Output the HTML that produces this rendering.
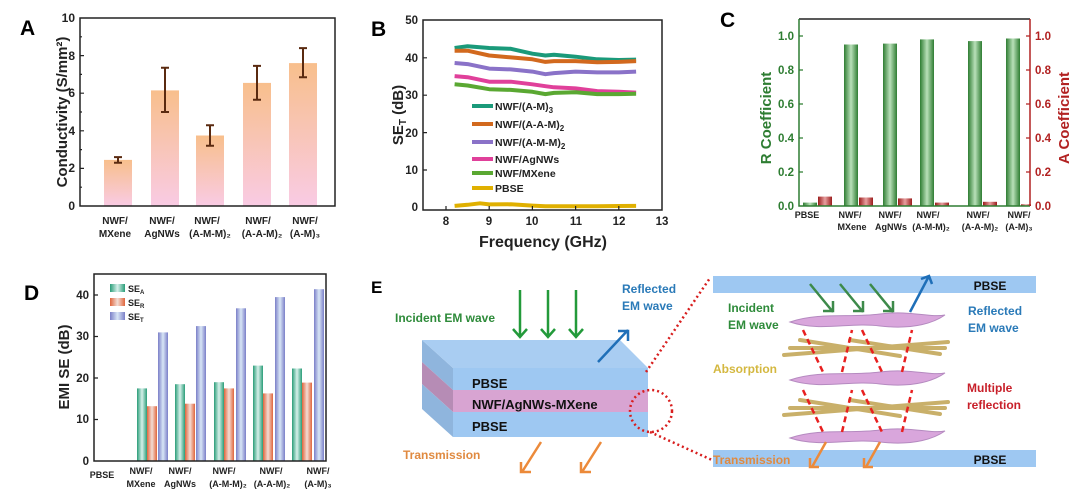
<!DOCTYPE html>
<html><head><meta charset="utf-8"><style>
body{margin:0;background:#fff}
svg{display:block;font-family:"Liberation Sans",Arial,sans-serif;font-weight:bold}
</style></head><body>
<svg width="1080" height="493" viewBox="0 0 1080 493" xmlns="http://www.w3.org/2000/svg">
<defs>
<linearGradient id="ga" x1="0" y1="0" x2="0" y2="1"><stop offset="0" stop-color="#f8bf8c"/><stop offset="1" stop-color="#f9cbe4"/></linearGradient>
<linearGradient id="gg" x1="0" x2="1"><stop offset="0" stop-color="#2e7d32"/><stop offset=".5" stop-color="#b9e0b9"/><stop offset="1" stop-color="#2e7d32"/></linearGradient>
<linearGradient id="gr" x1="0" x2="1"><stop offset="0" stop-color="#9b1b1b"/><stop offset=".5" stop-color="#e7a0a0"/><stop offset="1" stop-color="#9b1b1b"/></linearGradient>
<linearGradient id="dA" x1="0" x2="1"><stop offset="0" stop-color="#2a9d78"/><stop offset=".5" stop-color="#d6f0ea"/><stop offset="1" stop-color="#2a9d78"/></linearGradient>
<linearGradient id="dR" x1="0" x2="1"><stop offset="0" stop-color="#e0653c"/><stop offset=".5" stop-color="#f3ddd5"/><stop offset="1" stop-color="#e0653c"/></linearGradient>
<linearGradient id="dT" x1="0" x2="1"><stop offset="0" stop-color="#7b7fc8"/><stop offset=".5" stop-color="#d8e6f6"/><stop offset="1" stop-color="#7b7fc8"/></linearGradient>
</defs>

<!-- Panel A -->
<text x="20" y="35" font-size="21" fill="#000">A</text>
<g>
<rect x="104" y="159.9" width="28" height="46.1" fill="url(#ga)"/>
<rect x="151" y="90.4" width="28" height="115.6" fill="url(#ga)"/>
<rect x="196" y="135.5" width="28" height="70.5" fill="url(#ga)"/>
<rect x="243" y="82.9" width="28" height="123.1" fill="url(#ga)"/>
<rect x="289" y="63.1" width="28" height="142.9" fill="url(#ga)"/>
<g stroke="#5a2a10" stroke-width="2">
<path d="M118 162.8V157.1M114 162.8h8M114 157.1h8"/>
<path d="M165 112V67.8M161 112h8M161 67.8h8"/>
<path d="M210 145.8V125.2M206 145.8h8M206 125.2h8"/>
<path d="M257 99.8V65.9M253 99.8h8M253 65.9h8"/>
<path d="M303 77.2V48.1M299 77.2h8M299 48.1h8"/>
</g>
<rect x="80" y="18" width="255" height="188" fill="none" stroke="#222" stroke-width="1.5"/>
<g stroke="#222" stroke-width="1.2"><path d="M80 168.4h4M80 130.8h4M80 93.2h4M80 55.6h4M80 187.2h2M80 149.6h2M80 112h2M80 74.4h2M80 36.8h2"/></g>
<g font-size="12" text-anchor="end" fill="#222"><text x="75" y="210">0</text><text x="75" y="172">2</text><text x="75" y="135">4</text><text x="75" y="97">6</text><text x="75" y="60">8</text><text x="75" y="22">10</text></g>
<text transform="translate(67,112) rotate(-90)" font-size="15" text-anchor="middle" fill="#222">Conductivity (S/mm²)</text>
<g font-size="10" fill="#222" text-anchor="middle">
<text x="115" y="224">NWF/</text><text x="115" y="237">MXene</text>
<text x="162" y="224">NWF/</text><text x="162" y="237">AgNWs</text>
<text x="207" y="224">NWF/</text><text x="210" y="237">(A-M-M)₂</text>
<text x="258" y="224">NWF/</text><text x="262" y="237">(A-A-M)₂</text>
<text x="305" y="224">NWF/</text><text x="305" y="237">(A-M)₃</text>
</g>
</g>

<!-- Panel B -->
<text x="371" y="36" font-size="21" fill="#000">B</text>
<rect x="423" y="20" width="239" height="190" fill="none" stroke="#222" stroke-width="1.5"/>
<g fill="none" stroke-width="4" stroke-linejoin="round">
<polyline stroke="#1a9a7a" points="454.6,48 467.6,46.2 489.2,48 510.8,48.8 532.4,53.7 545.4,55.5 554,54.8 575.6,56.7 597.2,59.3 618.8,60 636.1,59.6"/>
<polyline stroke="#d2691e" points="454.6,50.7 467.6,50.7 489.2,55.5 510.8,57.4 532.4,59.3 545.4,61.9 554,61.1 575.6,61.1 597.2,62.3 618.8,61.9 636.1,61.1"/>
<polyline stroke="#8a72c8" points="454.6,63 467.6,64.1 489.2,68.6 510.8,69.4 532.4,71.6 545.4,74.2 554,73.1 575.6,71.6 597.2,72.4 618.8,72.4 636.1,71.6"/>
<polyline stroke="#e0409a" points="454.6,76.1 467.6,77.2 489.2,81.7 510.8,81.7 532.4,84.3 545.4,86.2 554,87.3 575.6,88.4 597.2,91.1 618.8,91.8 636.1,92.6"/>
<polyline stroke="#5aa832" points="454.6,84.3 467.6,85.5 489.2,89.2 510.8,89.9 532.4,91.8 545.4,94.1 554,92.9 575.6,92.2 597.2,94.1 618.8,94.1 636.1,93.7"/>
<polyline stroke="#e0b000" points="454.6,205.9 467.6,204.8 480,203.3 489.2,204.4 510.8,204.3 532.4,205.6 545.4,206.2 575.6,206.2 597.2,206.2 618.8,206 636.1,205.9"/>
</g>
<g stroke-width="4">
<path d="M472 106h21" stroke="#1a9a7a"/><path d="M472 124h21" stroke="#d2691e"/><path d="M472 142h21" stroke="#8a72c8"/>
<path d="M472 159h21" stroke="#e0409a"/><path d="M472 173h21" stroke="#5aa832"/><path d="M472 188h21" stroke="#e0b000"/>
</g>
<g font-size="10.5" fill="#222">
<text x="495" y="110">NWF/(A-M)<tspan font-size="8" dy="3">3</tspan></text>
<text x="495" y="128">NWF/(A-A-M)<tspan font-size="8" dy="3">2</tspan></text>
<text x="495" y="146">NWF/(A-M-M)<tspan font-size="8" dy="3">2</tspan></text>
<text x="495" y="163">NWF/AgNWs</text><text x="495" y="177">NWF/MXene</text><text x="495" y="192">PBSE</text>
</g>
<g stroke="#222" stroke-width="1.2"><path d="M423 170h4M423 132.6h4M423 95.2h4M423 57.8h4M446 210v-4M489.2 210v-4M532.4 210v-4M575.6 210v-4M618.8 210v-4"/></g>
<g font-size="11.5" text-anchor="end" fill="#222"><text x="418" y="211">0</text><text x="418" y="174">10</text><text x="418" y="137">20</text><text x="418" y="99">30</text><text x="418" y="62">40</text><text x="418" y="24">50</text></g>
<g font-size="11.5" text-anchor="middle" fill="#222"><text x="446" y="225">8</text><text x="489" y="225">9</text><text x="532" y="225">10</text><text x="576" y="225">11</text><text x="619" y="225">12</text><text x="662" y="225">13</text></g>
<text x="543" y="247" font-size="16" text-anchor="middle" fill="#222">Frequency (GHz)</text>
<text transform="translate(403,115) rotate(-90)" font-size="15" text-anchor="middle" fill="#222">SE<tspan font-size="10" dy="3">T</tspan><tspan dy="-3"> (dB)</tspan></text>

<!-- Panel C -->
<text x="720" y="27" font-size="21" fill="#000">C</text>
<g>
<rect x="803" y="202.6" width="14" height="3.4" fill="url(#gg)"/>
<rect x="844" y="44.5" width="14" height="161.5" fill="url(#gg)"/>
<rect x="883" y="43.6" width="14" height="162.4" fill="url(#gg)"/>
<rect x="920" y="39.4" width="14" height="166.6" fill="url(#gg)"/>
<rect x="968" y="41.1" width="14" height="164.9" fill="url(#gg)"/>
<rect x="1006" y="38.5" width="14" height="167.5" fill="url(#gg)"/>
<rect x="818" y="196.6" width="14" height="9.4" fill="url(#gr)"/>
<rect x="859" y="197.5" width="14" height="8.5" fill="url(#gr)"/>
<rect x="898" y="198.4" width="14" height="7.6" fill="url(#gr)"/>
<rect x="935" y="202.6" width="14" height="3.4" fill="url(#gr)"/>
<rect x="983" y="201.8" width="14" height="4.2" fill="url(#gr)"/>
<rect x="1021" y="204.3" width="10" height="1.7" fill="url(#gr)"/>
</g>
<path d="M799 19H1030" stroke="#222" stroke-width="1.5"/>
<path d="M799 19V206H1030" stroke="#2e7d32" stroke-width="1.5" fill="none"/>
<path d="M1030 19V206" stroke="#b22222" stroke-width="1.5"/>
<g stroke="#2e7d32" stroke-width="1.2"><path d="M799 172h4M799 138h4M799 104h4M799 70h4M799 36h4"/></g>
<g stroke="#b22222" stroke-width="1.2"><path d="M1030 172h-4M1030 138h-4M1030 104h-4M1030 70h-4M1030 36h-4"/></g>
<g font-size="11.5" text-anchor="end" fill="#2e7d32"><text x="794" y="210">0.0</text><text x="794" y="176">0.2</text><text x="794" y="142">0.4</text><text x="794" y="108">0.6</text><text x="794" y="74">0.8</text><text x="794" y="40">1.0</text></g>
<g font-size="11.5" fill="#b22222"><text x="1035" y="210">0.0</text><text x="1035" y="176">0.2</text><text x="1035" y="142">0.4</text><text x="1035" y="108">0.6</text><text x="1035" y="74">0.8</text><text x="1035" y="40">1.0</text></g>
<text transform="translate(771,118) rotate(-90)" font-size="15" text-anchor="middle" fill="#2e7d32">R Coefficient</text>
<text transform="translate(1069,118) rotate(-90)" font-size="15" text-anchor="middle" fill="#b22222">A Coefficient</text>
<g font-size="9" fill="#222" text-anchor="middle">
<text x="807" y="218">PBSE</text>
<text x="850" y="218">NWF/</text><text x="852" y="230">MXene</text>
<text x="890" y="218">NWF/</text><text x="891" y="230">AgNWs</text>
<text x="928" y="218">NWF/</text><text x="931" y="230">(A-M-M)₂</text>
<text x="978" y="218">NWF/</text><text x="980" y="230">(A-A-M)₂</text>
<text x="1019" y="218">NWF/</text><text x="1019" y="230">(A-M)₃</text>
</g>

<!-- Panel D -->
<text x="24" y="300" font-size="21" fill="#000">D</text>
<g>
<rect x="137" y="388.4" width="10" height="72.6" fill="url(#dA)"/><rect x="147" y="406.2" width="10" height="54.8" fill="url(#dR)"/><rect x="158" y="332.4" width="10" height="128.6" fill="url(#dT)"/>
<rect x="175" y="384.2" width="10" height="76.8" fill="url(#dA)"/><rect x="185" y="403.7" width="10" height="57.3" fill="url(#dR)"/><rect x="196" y="326.1" width="10" height="134.9" fill="url(#dT)"/>
<rect x="214" y="382.2" width="10" height="78.8" fill="url(#dA)"/><rect x="224" y="388.4" width="10" height="72.6" fill="url(#dR)"/><rect x="236" y="308.3" width="10" height="152.7" fill="url(#dT)"/>
<rect x="253" y="365.6" width="10" height="95.4" fill="url(#dA)"/><rect x="263" y="393.4" width="10" height="67.6" fill="url(#dR)"/><rect x="275" y="297.1" width="10" height="163.9" fill="url(#dT)"/>
<rect x="292" y="368.5" width="10" height="92.5" fill="url(#dA)"/><rect x="302" y="382.6" width="10" height="78.4" fill="url(#dR)"/><rect x="314" y="289.2" width="10" height="171.8" fill="url(#dT)"/>
</g>
<rect x="94" y="274" width="232" height="187" fill="none" stroke="#222" stroke-width="1.5"/>
<g stroke="#222" stroke-width="1.2"><path d="M94 419.5h4M94 378h4M94 336.5h4M94 295h4"/></g>
<g font-size="11.5" text-anchor="end" fill="#222"><text x="89" y="465">0</text><text x="89" y="423">10</text><text x="89" y="382">20</text><text x="89" y="340">30</text><text x="89" y="299">40</text></g>
<text transform="translate(69,367) rotate(-90)" font-size="15" text-anchor="middle" fill="#222">EMI SE (dB)</text>
<rect x="110" y="284" width="15" height="8" fill="url(#dA)"/><rect x="110" y="298" width="15" height="8" fill="url(#dR)"/><rect x="110" y="312" width="15" height="8" fill="url(#dT)"/>
<g font-size="9" fill="#222"><text x="128" y="292">SE<tspan font-size="6" dy="2">A</tspan></text><text x="128" y="306">SE<tspan font-size="6" dy="2">R</tspan></text><text x="128" y="320">SE<tspan font-size="6" dy="2">T</tspan></text></g>
<g font-size="9" fill="#222" text-anchor="middle">
<text x="102" y="478">PBSE</text>
<text x="141" y="474">NWF/</text><text x="141" y="487">MXene</text>
<text x="180" y="474">NWF/</text><text x="180" y="487">AgNWs</text>
<text x="224" y="474">NWF/</text><text x="228" y="487">(A-M-M)₂</text>
<text x="271" y="474">NWF/</text><text x="272" y="487">(A-A-M)₂</text>
<text x="318" y="474">NWF/</text><text x="318" y="487">(A-M)₃</text>
</g>

<!-- Panel E left -->
<text x="371" y="293" font-size="17" fill="#000">E</text>
<polygon points="422,340 453,368 453,390 422,362" fill="#8fb5dd"/>
<polygon points="422,362 453,390 453,412 422,384" fill="#b68cb5"/>
<polygon points="422,384 453,412 453,437 422,409" fill="#8fb5dd"/>
<polygon points="422,340 620,340 648,368 453,368" fill="#a9cdf2"/>
<rect x="453" y="368" width="195" height="22" fill="#9ec8f2"/>
<rect x="453" y="390" width="195" height="22" fill="#d8a4d2"/>
<rect x="453" y="412" width="195" height="25" fill="#9ec8f2"/>
<g font-size="13" fill="#111"><text x="472" y="388">PBSE</text><text x="472" y="409">NWF/AgNWs-MXene</text><text x="472" y="431">PBSE</text></g>
<text x="395" y="322" font-size="12" fill="#2e8b3a">Incident EM wave</text>
<text x="622" y="293" font-size="12" fill="#2a7ab8">Reflected</text><text x="622" y="310" font-size="12" fill="#2a7ab8">EM wave</text>
<text x="403" y="459" font-size="12" fill="#e08a40">Transmission</text>
<g stroke="#239a3a" stroke-width="2.5" fill="none">
<path d="M520 290V337M513 329l7 8 7-8"/><path d="M548 290V337M541 329l7 8 7-8"/><path d="M576 290V337M569 329l7 8 7-8"/>
</g>
<path d="M598 362L628 330M618 331h10v10" stroke="#1f6fb8" stroke-width="2.5" fill="none"/>
<g stroke="#ec8a3a" stroke-width="2.5" fill="none">
<path d="M541 442L522 472M521 462v10h10"/><path d="M601 442L582 472M581 462v10h10"/>
</g>
<g stroke="#d81e1e" stroke-width="2.5" stroke-dasharray="2,3" fill="none">
<circle cx="651" cy="411" r="21"/>
<path d="M646 372L710 278"/><path d="M650 432L712 460"/>
</g>

<!-- Panel E right -->
<rect x="713" y="276" width="323" height="17" fill="#9ec8f2"/>
<rect x="713" y="450" width="323" height="17" fill="#9ec8f2"/>
<text x="990" y="290" font-size="12" fill="#111" text-anchor="middle">PBSE</text>
<text x="990" y="464" font-size="12" fill="#111" text-anchor="middle">PBSE</text>
<text x="713" y="464" font-size="12" fill="#e08a40">Transmission</text>
<text x="728" y="312" font-size="12" fill="#2e8b3a">Incident</text><text x="728" y="329" font-size="12" fill="#2e8b3a">EM wave</text>
<text x="968" y="315" font-size="12" fill="#2a7ab8">Reflected</text><text x="968" y="332" font-size="12" fill="#2a7ab8">EM wave</text>
<text x="713" y="373" font-size="12" fill="#d4b840">Absorption</text>
<text x="967" y="392" font-size="12" fill="#c8202a">Multiple</text><text x="967" y="409" font-size="12" fill="#c8202a">reflection</text>
<g fill="#d9a6dc" stroke="#b58ac0" stroke-width="1">
<path d="M790 322 C820 312 850 318 880 314 C910 310 930 318 945 315 C935 322 915 330 880 326 C850 322 820 332 790 322Z"/>
<path d="M790 380 C820 370 850 376 880 372 C910 368 930 376 945 373 C935 380 915 388 880 384 C850 380 820 390 790 380Z"/>
<path d="M790 438 C820 428 850 434 880 430 C910 426 930 434 945 431 C935 438 915 446 880 442 C850 438 820 448 790 438Z"/>
</g>
<g stroke="#c9b06a" stroke-width="4" stroke-linecap="round">
<path d="M784 355L948 342"/><path d="M790 348L945 348"/><path d="M800 340L900 356"/><path d="M850 340L940 354"/>
<path d="M784 415L948 402"/><path d="M790 408L945 408"/><path d="M800 400L900 416"/><path d="M850 400L940 414"/>
</g>
<g stroke="#e82020" stroke-width="2.5" stroke-dasharray="6,4" fill="none">
<path d="M803 330L823 372"/><path d="M842 372L852 330"/><path d="M862 330L882 372"/><path d="M902 372L912 330"/>
<path d="M803 390L823 432"/><path d="M842 432L852 390"/><path d="M862 390L882 432"/><path d="M902 432L912 390"/>
</g>
<g stroke="#3d8a4a" stroke-width="2.5" fill="none">
<path d="M810 284L833 312M823 311h10v-10"/><path d="M840 284L863 312M853 311h10v-10"/><path d="M870 284L893 312M883 311h10v-10"/>
</g>
<path d="M910 312L929 276M921 279l8-3 3 8" stroke="#1f6fb8" stroke-width="2.5" fill="none"/>
<g stroke="#ec8a3a" stroke-width="2.5" fill="none">
<path d="M826 442L812 467M810 458v9h9"/><path d="M880 442L866 467M864 458v9h9"/>
</g>
</svg>
</body></html>
